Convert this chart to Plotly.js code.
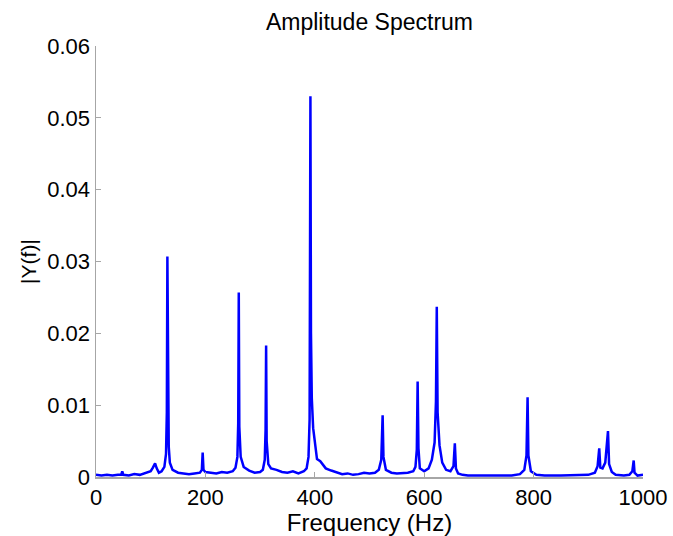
<!DOCTYPE html>
<html>
<head>
<meta charset="utf-8">
<script src="https://cdn.plot.ly/plotly-3.0.1.min.js"></script>
<style>html,body{margin:0;padding:0;background:#fff;}#chart{width:673px;height:536px;}</style>
</head>
<body>
<div id="chart"></div>
<script>
// Frequency (Hz) samples
var freq = [0, 10, 20, 30, 40, 46, 48, 50, 60, 70, 80, 90, 100, 104, 108, 111, 115, 120, 125, 128,
  129.5, 130.5, 131.5, 133, 135, 140, 150, 160, 170, 180, 190, 193.5, 195, 196.5, 200, 210, 220, 230, 240, 250,
  255, 258.5, 260, 261, 262, 264.5, 270, 280, 290, 300, 305, 308.5, 310, 311, 312, 315, 320, 330, 340, 350,
  360, 370, 380, 385, 388.5, 390.5, 392, 393, 394.5, 397, 401, 404, 410, 415, 420, 430, 440, 450, 460, 470,
  480, 490, 500, 510, 517, 521.5, 524, 525.5, 530, 540, 550, 560, 570, 580, 584, 586.5, 588, 589.5, 592, 600,
  608, 614, 619, 621.5, 623, 624.5, 628, 633, 640, 648, 653.5, 656, 658, 662, 670, 680, 700, 720, 740, 760,
  775, 783, 787, 789, 790.5, 795, 805, 820, 850, 880, 900, 912, 917, 920, 922, 926, 931, 936, 938, 943,
  950, 965, 975, 980.5, 983, 984.5, 990, 1000];
// |Y(f)| amplitude
var amp = [0.0003, 0.0002, 0.0003, 0.0002, 0.0003, 0.0003, 0.0008, 0.0003, 0.0002, 0.0004, 0.0003, 0.0005, 0.0008, 0.0013, 0.0019, 0.0012, 0.0006, 0.0008, 0.0014, 0.0032,
  0.0090, 0.0307, 0.0140, 0.0042, 0.0020, 0.0010, 0.0006, 0.0005, 0.0004, 0.0005, 0.0006, 0.0010, 0.0034, 0.0010, 0.0007, 0.0006, 0.0005, 0.0007, 0.0006, 0.0008,
  0.0013, 0.0028, 0.0075, 0.0257, 0.0070, 0.0028, 0.0014, 0.0009, 0.0006, 0.0007, 0.0010, 0.0024, 0.0065, 0.0183, 0.0050, 0.0018, 0.0012, 0.0010, 0.0007, 0.0006,
  0.0008, 0.0005, 0.0008, 0.0012, 0.0028, 0.0080, 0.0530, 0.0200, 0.0110, 0.0068, 0.0040, 0.0025, 0.0022, 0.0017, 0.0012, 0.0009, 0.0006, 0.0004, 0.0005, 0.0003,
  0.0004, 0.0006, 0.0005, 0.0006, 0.0010, 0.0024, 0.0086, 0.0028, 0.0010, 0.0006, 0.0005, 0.0005, 0.0006, 0.0008, 0.0014, 0.0038, 0.0133, 0.0040, 0.0012, 0.0008,
  0.0012, 0.0024, 0.0048, 0.0105, 0.0237, 0.0090, 0.0044, 0.0020, 0.0010, 0.0008, 0.0015, 0.0047, 0.0012, 0.0005, 0.0003, 0.0002, 0.0002, 0.0002, 0.0003, 0.0002,
  0.0004, 0.0010, 0.0030, 0.0111, 0.0030, 0.0008, 0.0003, 0.0002, 0.0002, 0.0002, 0.0003, 0.0006, 0.0015, 0.0040, 0.0013, 0.0012, 0.0020, 0.0064, 0.0018, 0.0007,
  0.0003, 0.0002, 0.0003, 0.0008, 0.0023, 0.0006, 0.0002, 0.0003];
var xTicks = [0, 200, 400, 600, 800, 1000];
var yTicks = [0, 0.01, 0.02, 0.03, 0.04, 0.05, 0.06];
var yTickText = ['0', '0.01', '0.02', '0.03', '0.04', '0.05', '0.06'];

var font = 'Liberation Sans, Arial, Helvetica, sans-serif';
var trace = {
  x: freq, y: amp, type: 'scatter', mode: 'lines',
  line: {color: '#0000ff', width: 2.5}, hoverinfo: 'skip'
};
var axisCommon = {
  showgrid: false, zeroline: false, showline: true, linecolor: '#a6a6a6', linewidth: 1.5,
  ticks: 'inside', ticklen: 5, tickcolor: '#a6a6a6', tickwidth: 1,
  tickfont: {family: font, size: 22, color: '#000'}
};
var layout = {
  width: 673, height: 536,
  margin: {l: 96, r: 30, t: 46, b: 59},
  paper_bgcolor: '#fff', plot_bgcolor: '#fff',
  showlegend: false,
  title: {text: 'Amplitude Spectrum', font: {family: font, size: 23, color: '#000'},
          x: 0.549, xanchor: 'center', y: 1 - 22/536, yanchor: 'middle', yref: 'container'},
  xaxis: Object.assign({}, axisCommon, {
    range: [0, 1000], tickmode: 'array', tickvals: xTicks,
    title: {text: 'Frequency (Hz)', font: {family: font, size: 24, color: '#000'}, standoff: 0}
  }),
  yaxis: Object.assign({}, axisCommon, {
    range: [0, 0.06], tickmode: 'array', tickvals: yTicks, ticktext: yTickText,
    title: {text: '|Y(f)|', font: {family: font, size: 21, color: '#000'}, standoff: 5}
  })
};
Plotly.newPlot('chart', [trace], layout, {staticPlot: true, displayModeBar: false});
</script>
</body>
</html>
